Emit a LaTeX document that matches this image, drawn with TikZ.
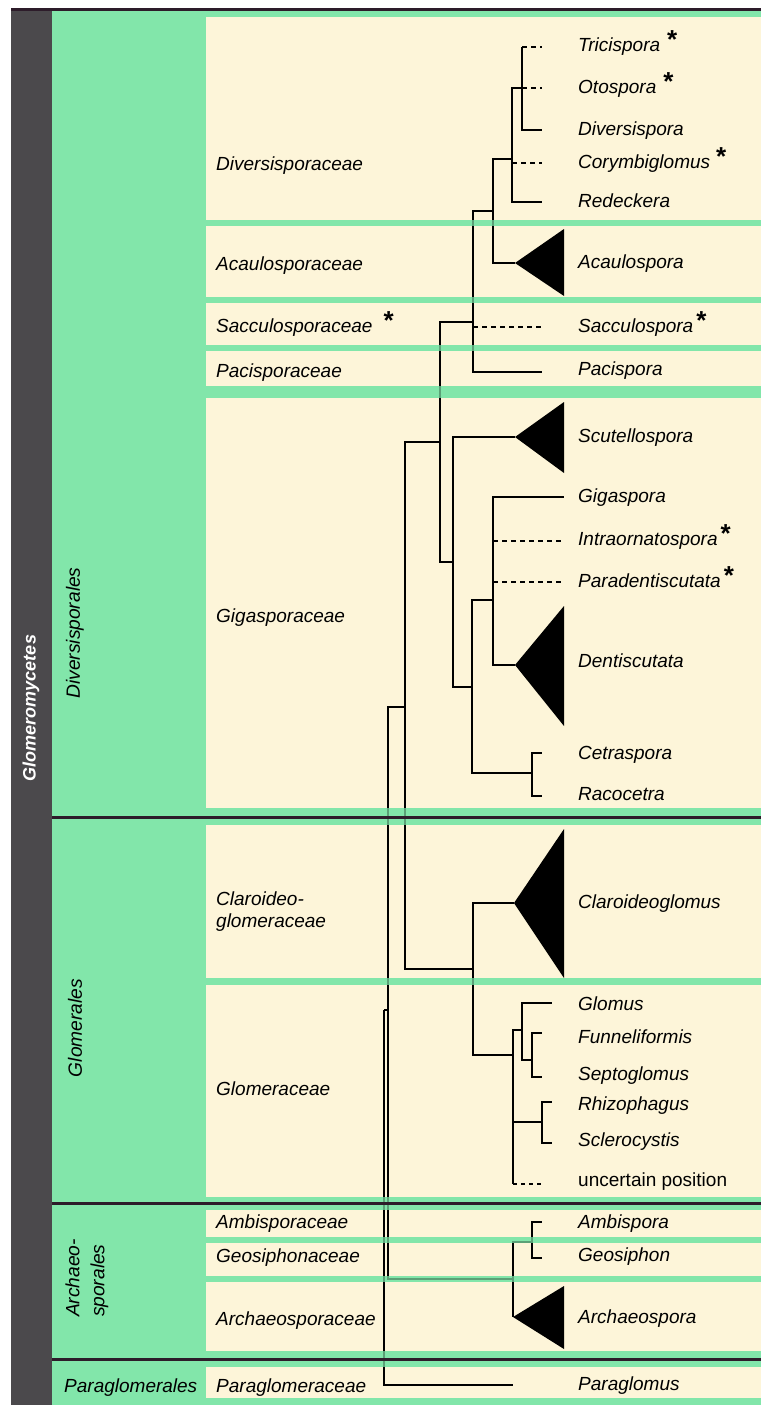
\documentclass[tikz,border=0pt]{standalone}
\usepackage{fontspec}
\setmainfont{Liberation Sans}
\definecolor{ordergreen}{RGB}{130,230,170}
\definecolor{famcream}{RGB}{253,245,217}
\definecolor{classgrey}{RGB}{75,73,76}
\definecolor{ruledark}{RGB}{45,28,42}
\newcommand\starmark{\raisebox{3pt}{\fontsize{26}{26}\selectfont\upshape\bfseries *}}

\begin{document}
\begin{tikzpicture}[x=1pt,y=-1pt,
    famband/.style={fill=famcream},
    stripe/.style={fill=ordergreen,opacity=0.7},
    orderrule/.style={draw=ruledark,line width=3pt},
    branch/.style={line width=2.2pt},
    twig/.style={line width=1.4pt},
    unsure/.style={line width=1.8pt,dash pattern=on 5pt off 4pt},
    clade/.style={fill=black},
    famname/.style={anchor=west,inner sep=0pt,text height=13pt,text depth=3pt,
      font=\fontsize{19}{22}\selectfont\itshape},
    genname/.style={famname},
    ordname/.style={rotate=90,inner sep=0pt,align=left,
      font=\fontsize{19.2}{25}\selectfont\itshape}
  ]
  \useasboundingbox (0,0) rectangle (761,1405);
  \fill[white] (0,0) rectangle (761,1405);
  \fill[classgrey] (11,8) rectangle (52,1405);
  \fill[ordergreen] (52,11) rectangle (761,1405);
  \foreach \ya/\yb in {17/220,226/297,303/345,351/386,398/808,825/978,985/1197,
      1210/1237,1243/1276,1282/1351,1367/1398}
    \fill[famband] (206,\ya) rectangle (761,\yb);

  % class and orders
  \node[ordname,text=white,font=\fontsize{18}{22}\selectfont\bfseries\itshape] (class) at (31,708) {Glomeromycetes};
  \node[ordname] (divord) at (75,633) {Diversisporales};
  \node[ordname] (gloord) at (75,1028) {Glomerales};
  \node[ordname] (arcord) at (87,1278) {Archaeo-\\sporales};
  \node[famname] (parord) at (64,1387) {Paraglomerales};

  % families
  \node[famname] (divfam) at (216,165) {Diversisporaceae};
  \node[famname] (acafam) at (216,265) {Acaulosporaceae};
  \node[famname] (sacfam) at (216,327) {Sacculosporaceae\hspace{11pt}\starmark};
  \node[famname] (pacfam) at (216,372) {Pacisporaceae};
  \node[famname] (gigfam) at (216,617) {Gigasporaceae};
  \node[anchor=west,inner sep=0pt,align=left,font=\fontsize{19}{22}\selectfont\itshape]
    (clafam) at (216,912) {Claroideo-\\glomeraceae};
  \node[famname] (glofam) at (216,1090) {Glomeraceae};
  \node[famname] (ambfam) at (216,1223) {Ambisporaceae};
  \node[famname] (geofam) at (216,1257) {Geosiphonaceae};
  \node[famname] (arcfam) at (216,1320) {Archaeosporaceae};
  \node[famname] (parfam) at (216,1387) {Paraglomeraceae};

  % genera
  \node[genname] (tric) at (578,47) {Tricispora\hspace{7pt}\starmark};
  \node[genname] (otos) at (578,88) {Otospora\hspace{7pt}\starmark};
  \node[genname] (dive) at (578,130) {Diversispora};
  \node[genname] (cory) at (578,163) {Corymbiglomus\hspace{6pt}\starmark};
  \node[genname] (rede) at (578,202) {Redeckera};
  \node[genname] (acau) at (578,263) {Acaulospora};
  \node[genname] (sacc) at (578,327) {Sacculospora\hspace{3pt}\starmark};
  \node[genname] (paci) at (578,370) {Pacispora};
  \node[genname] (scut) at (578,437) {Scutellospora};
  \node[genname] (giga) at (578,497) {Gigaspora};
  \node[genname] (intr) at (578,540) {Intraornatospora\hspace{3pt}\starmark};
  \node[genname] (para) at (578,582) {Paradentiscutata\hspace{3pt}\starmark};
  \node[genname] (dent) at (578,662) {Dentiscutata};
  \node[genname] (cetr) at (578,754) {Cetraspora};
  \node[genname] (raco) at (578,795) {Racocetra};
  \node[genname] (clar) at (578,903) {Claroideoglomus};
  \node[genname] (glom) at (578,1005) {Glomus};
  \node[genname] (funn) at (578,1038) {Funneliformis};
  \node[genname] (sept) at (578,1075) {Septoglomus};
  \node[genname] (rhiz) at (578,1105) {Rhizophagus};
  \node[genname] (scle) at (578,1141) {Sclerocystis};
  \node[genname,font=\fontsize{19}{22}\selectfont] (unce) at (578,1181) {uncertain position};
  \node[genname] (ambi) at (578,1223) {Ambispora};
  \node[genname] (geos) at (578,1256) {Geosiphon};
  \node[genname] (arch) at (578,1318) {Archaeospora};
  \node[genname] (pglo) at (578,1385) {Paraglomus};

  % inner nodes of the tree
  \coordinate (root) at (384,1010);
  \coordinate (nA) at (388,1010);
  \coordinate (nB) at (405,707);
  \coordinate (nDiv) at (440,442);
  \coordinate (nD) at (473,322);
  \coordinate (nF) at (493,211);
  \coordinate (nH) at (512,159);
  \coordinate (nI) at (522,88);
  \coordinate (nGig) at (453,562);
  \coordinate (nJ) at (472,687);
  \coordinate (nK) at (493,600);
  \coordinate (nL) at (532,773);
  \coordinate (nGlo) at (473,969);
  \coordinate (nM) at (513,1055);
  \coordinate (nN) at (522,1030);
  \coordinate (nP) at (532,1060);
  \coordinate (nO) at (542,1122);
  \coordinate (nArc) at (513,1279);
  \coordinate (nR) at (532,1242);
  % tips
  \coordinate (t-tric) at (542,47);
  \coordinate (t-otos) at (542,88);
  \coordinate (t-dive) at (542,130);
  \coordinate (t-cory) at (542,163);
  \coordinate (t-rede) at (542,202);
  \coordinate (t-acau) at (515,263);
  \coordinate (t-sacc) at (542,327);
  \coordinate (t-paci) at (542,372);
  \coordinate (t-scut) at (515,437);
  \coordinate (t-giga) at (564,497);
  \coordinate (t-intr) at (564,541);
  \coordinate (t-para) at (564,582);
  \coordinate (t-dent) at (515,665);
  \coordinate (t-cetr) at (542,753);
  \coordinate (t-raco) at (542,796);
  \coordinate (t-clar) at (514,903);
  \coordinate (t-glom) at (552,1003);
  \coordinate (t-funn) at (542,1033);
  \coordinate (t-sept) at (542,1077);
  \coordinate (t-rhiz) at (552,1102);
  \coordinate (t-scle) at (552,1143);
  \coordinate (t-unce) at (542,1184);
  \coordinate (t-ambi) at (542,1222);
  \coordinate (t-geos) at (542,1258);
  \coordinate (t-arch) at (513,1317);
  \coordinate (t-pglo) at (513,1385);

  \draw[branch] (root) |- (nA);
  \draw[branch] (root) |- (t-pglo);
  \draw[branch] (nA) |- (nB);
  \draw[branch] (nA) |- (nArc);
  \draw[branch] (nB) |- (nDiv);
  \draw[branch] (nB) |- (nGlo);
  \draw[branch] (nDiv) |- (nD);
  \draw[branch] (nDiv) |- (nGig);
  \draw[branch] (nD) |- (nF);
  \draw[branch] (nD) |- (t-paci);
  \draw[branch] (nD) -- (nD |- t-sacc);
  \draw[unsure] (nD |- t-sacc) -- (t-sacc);
  \draw[branch] (nF) |- (nH);
  \draw[branch] (nF) |- (t-acau);
  \draw[branch] (nH) |- (nI);
  \draw[branch] (nH) |- (t-rede);
  \draw[unsure] (nH |- t-cory) -- (t-cory);
  \draw[twig] (nI) |- (t-dive);
  \draw[twig] (nI) -- (nI |- t-tric);
  \draw[branch] (nI |- t-dive) -- (t-dive);
  \draw[unsure] (nI |- t-tric) -- (t-tric);
  \draw[unsure] (nI) -- (t-otos);
  \draw[branch] (nGig) |- (t-scut);
  \draw[branch] (nGig) |- (nJ);
  \draw[branch] (nJ) |- (nK);
  \draw[branch] (nJ) |- (nL);
  \draw[branch] (nK) |- (t-giga);
  \draw[branch] (nK) |- (t-dent);
  \draw[unsure] (nK |- t-intr) -- (t-intr);
  \draw[unsure] (nK |- t-para) -- (t-para);
  \draw[twig] (nL) |- (t-cetr);
  \draw[twig] (nL) |- (t-raco);
  \draw[branch] (nGlo) |- (t-clar);
  \draw[branch] (nGlo) |- (nM);
  \draw[branch] (nM) |- (nN);
  \draw[branch] (nM) |- (nO);
  \draw[branch] (nM) -- (nM |- t-unce);
  \draw[unsure,dash pattern=on 4pt off 4pt] (nM |- t-unce) -- (t-unce);
  \draw[branch] (nN) |- (t-glom);
  \draw[branch] (nN) |- (nP);
  \draw[branch] (nP) |- (t-funn);
  \draw[branch] (nP) |- (t-sept);
  \draw[branch] (nO) |- (t-rhiz);
  \draw[branch] (nO) |- (t-scle);
  \draw[branch] (nArc) |- (nR);
  \draw[branch] (nArc) -- (t-arch);
  \draw[branch] (nR) |- (t-ambi);
  \draw[branch] (nR) |- (t-geos);

  % collapsed clades
  \fill[clade] (t-acau) -- ++(49,-34) -- ++(0,67) -- cycle;
  \fill[clade] (t-scut) -- ++(49,-35) -- ++(0,71) -- cycle;
  \fill[clade] (t-dent) -- ++(49,-59) -- ++(0,120) -- cycle;
  \fill[clade] (t-clar) -- ++(50,-74) -- ++(0,149) -- cycle;
  \fill[clade] (t-arch) -- ++(51,-31) -- ++(0,63) -- cycle;

  \foreach \ya/\yb in {220/226,297/303,345/351,386/398,808/825,978/985,1197/1210,
      1237/1243,1276/1282,1351/1367,1398/1405}
    \fill[stripe] (206,\ya) rectangle (761,\yb);
  \draw[orderrule] (11,9.5) -- (761,9.5);
  \draw[orderrule] (52,817) -- (761,817);
  \draw[orderrule] (52,1203) -- (761,1203);
  \draw[orderrule] (52,1359) -- (761,1359);
\end{tikzpicture}
\end{document}
